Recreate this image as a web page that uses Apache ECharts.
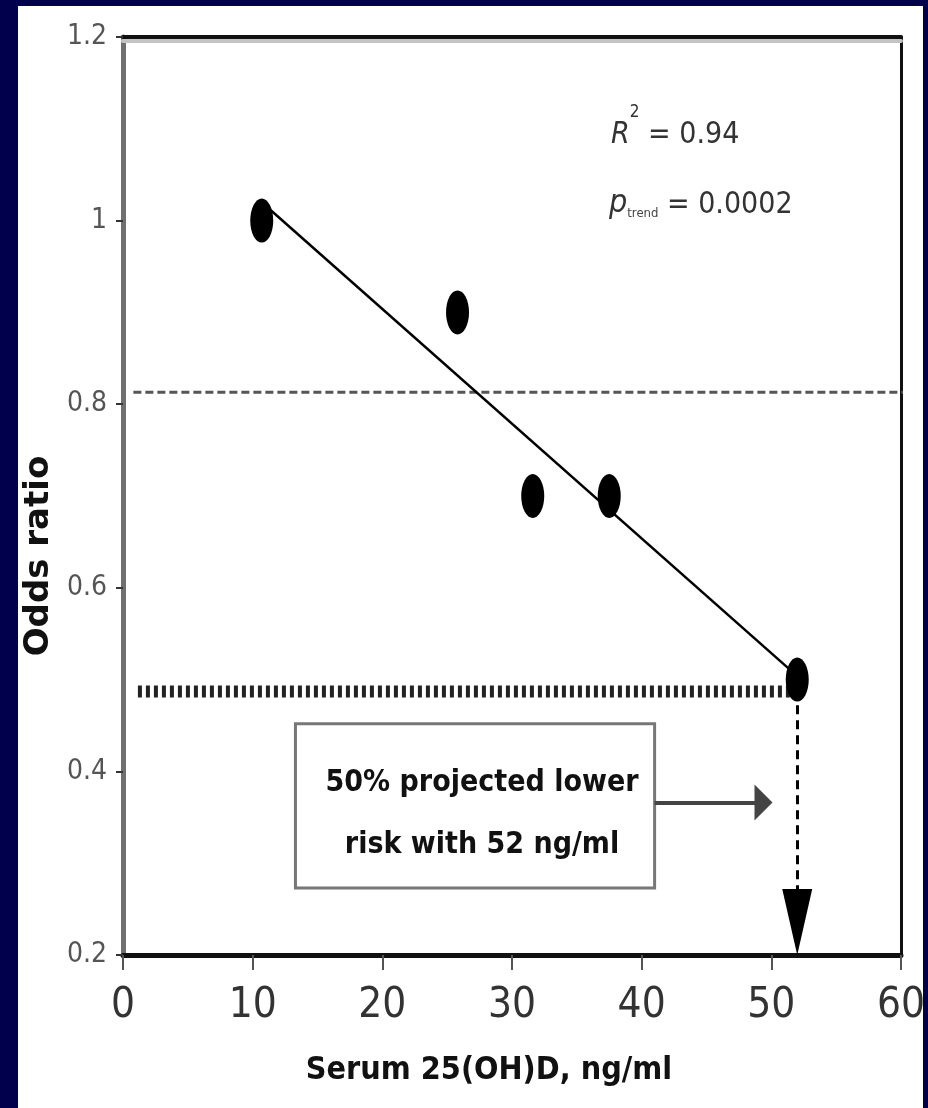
<!DOCTYPE html>
<html>
<head>
<meta charset="utf-8">
<title>Odds ratio by serum 25(OH)D</title>
<script src="https://cdn.jsdelivr.net/npm/echarts@6/dist/echarts.min.js"></script>
<style>
  html, body { margin: 0; padding: 0; background: #00004d; }
  #chart { width: 928px; height: 1108px; }
</style>
</head>
<body>
<div id="chart"></div>
<script>
// Serum 25(OH)D (ng/ml) and the odds ratio at each level
const serum = [10.7, 25.8, 31.6, 37.5, 52];
const oddsRatio = [1.0, 0.9, 0.7, 0.7, 0.5];

// Fitted trend through the five points
const trendLine = [[10.7, 1.02], [51.5, 0.51]];

// Horizontal reference lines
const upperRef = [[0.8, 0.813], [60.7, 0.813]];
const lowerRef = [[1.15, 0.487], [52, 0.487]];

// Projection arrow down to the x axis, the note box and its pointer
const projectionDrop = [[52, 0.472], [52, 0.236]];
const noteBox = [[13.3, 0.452], [41.0, 0.273]];
const noteArrow = [[41.0, 0.366], [49.4, 0.366]];
const noteLines = ['50% projected lower', 'risk with 52 ng/ml'];

// Axis ranges: [min, max, interval]
const xRange = [0, 60, 10];
const yRange = [0.2, 1.2, 0.2];

const statR2 = '0.94';
const statP = '0.0002';

const NARROW = "'Liberation Sans Narrow', 'Arial Narrow', 'DejaVu Sans Condensed', 'Liberation Sans', sans-serif";

const chart = echarts.init(document.getElementById('chart'), null, { renderer: 'canvas' });

const points = serum.map((x, i) => [x, oddsRatio[i]]);

const option = {
  backgroundColor: '#00004d',
  animation: false,
  grid: { left: 123, right: 22, top: 37, bottom: 153 },
  graphic: [
    { type: 'rect', left: 18, top: 6, z: -10, silent: true,
      shape: { width: 905, height: 1102 }, style: { fill: '#ffffff' } },
    { type: 'text', left: 611, top: 104, z: 10, silent: true,
      style: {
        text: '{i|R}{sup|2}{n| = ' + statR2 + '}',
        rich: {
          i: { fontFamily: NARROW, fontStyle: 'italic', fontSize: 30, lineHeight: 46, verticalAlign: 'bottom', fill: '#333' },
          sup: { fontFamily: NARROW, fontSize: 17, lineHeight: 14, verticalAlign: 'top', fill: '#333' },
          n: { fontFamily: NARROW, fontSize: 30, lineHeight: 46, verticalAlign: 'bottom', fill: '#333' }
        }
      } },
    { type: 'text', left: 609, top: 188, z: 10, silent: true,
      style: {
        text: '{i|p}{sub|trend}{n| = ' + statP + '}',
        rich: {
          i: { fontFamily: NARROW, fontStyle: 'italic', fontSize: 32, lineHeight: 46, verticalAlign: 'bottom', fill: '#333' },
          sub: { fontFamily: NARROW, fontSize: 13, lineHeight: 10, verticalAlign: 'bottom', fill: '#444' },
          n: { fontFamily: NARROW, fontSize: 30, lineHeight: 46, verticalAlign: 'bottom', fill: '#333' }
        }
      } }
  ],
  xAxis: [
    {
      type: 'value', position: 'bottom',
      min: xRange[0], max: xRange[1], interval: xRange[2],
      axisLine: { onZero: false, lineStyle: { color: '#111', width: 5 } },
      axisTick: { show: true, length: 15, lineStyle: { color: '#555', width: 2 } },
      axisLabel: { fontFamily: NARROW, fontSize: 42, color: '#333', margin: 30 },
      splitLine: { show: false },
      name: 'Serum 25(OH)D, ng/ml', nameLocation: 'middle', nameGap: 100,
      nameTextStyle: { fontFamily: NARROW, fontWeight: 'bold', fontSize: 32, color: '#111', padding: [0, 46, 0, 0] }
    },
    {
      type: 'value', position: 'top',
      min: xRange[0], max: xRange[1], interval: xRange[2],
      axisLine: { onZero: false, lineStyle: { color: '#111', width: 4, shadowColor: '#c4c4c4', shadowOffsetY: 4, shadowBlur: 0 } },
      axisTick: { show: false }, axisLabel: { show: false }, splitLine: { show: false }
    }
  ],
  yAxis: [
    {
      type: 'value', position: 'left',
      min: yRange[0], max: yRange[1], interval: yRange[2],
      axisLine: { show: true, onZero: false, lineStyle: { color: '#707070', width: 5 } },
      axisTick: { show: true, length: 7, lineStyle: { color: '#333', width: 2 } },
      axisLabel: { fontFamily: NARROW, fontSize: 28, color: '#555', margin: 16 },
      splitLine: { show: false },
      name: 'Odds ratio', nameLocation: 'middle', nameGap: 66,
      nameTextStyle: { fontFamily: "'DejaVu Sans', sans-serif", fontWeight: 'bold', fontSize: 34, color: '#111', padding: [0, 120, 0, 0] }
    },
    {
      type: 'value', position: 'right',
      min: yRange[0], max: yRange[1], interval: yRange[2],
      axisLine: { show: true, onZero: false, lineStyle: { color: '#111', width: 3 } },
      axisTick: { show: false }, axisLabel: { show: false }, splitLine: { show: false }
    }
  ],
  series: [
    {
      name: 'upper reference', type: 'line', data: upperRef, symbol: 'none', clip: false, silent: true, z: 2,
      lineStyle: { color: '#555', width: 3, type: [8, 4] }
    },
    {
      name: 'lower reference', type: 'line', data: lowerRef, symbol: 'none', clip: false, silent: true, z: 2,
      lineStyle: { color: '#222', width: 12, type: [4, 4] },
      markArea: {
        silent: true,
        itemStyle: { color: '#ffffff', borderColor: '#777', borderWidth: 3 },
        label: {
          show: true, position: 'inside', formatter: noteLines.join('\n'),
          fontFamily: NARROW, fontWeight: 'bold', fontSize: 30, lineHeight: 62, color: '#111', offset: [7, 8]
        },
        data: [[{ coord: noteBox[0] }, { coord: noteBox[1] }]]
      },
      markLine: {
        silent: true, animation: false,
        label: { show: false },
        emphasis: { disabled: true },
        data: [
          [
            { coord: projectionDrop[0], symbol: 'none' },
            { coord: projectionDrop[1], symbol: 'triangle', symbolSize: [30, 66],
              lineStyle: { color: '#000', width: 3, type: [9, 6] } }
          ],
          [
            { coord: noteArrow[0], symbol: 'none' },
            { coord: noteArrow[1], symbol: 'triangle', symbolSize: [36, 18],
              lineStyle: { color: '#444', width: 4, type: 'solid' } }
          ]
        ]
      }
    },
    {
      name: 'trend', type: 'line', data: trendLine, symbol: 'none', silent: true, z: 3,
      lineStyle: { color: '#000', width: 2.5 }
    },
    {
      name: 'Odds ratio', type: 'scatter', data: points, symbol: 'circle', symbolSize: [23, 44], z: 5,
      itemStyle: { color: '#000', opacity: 1 }
    }
  ]
};

chart.setOption(option);
</script>
</body>
</html>
